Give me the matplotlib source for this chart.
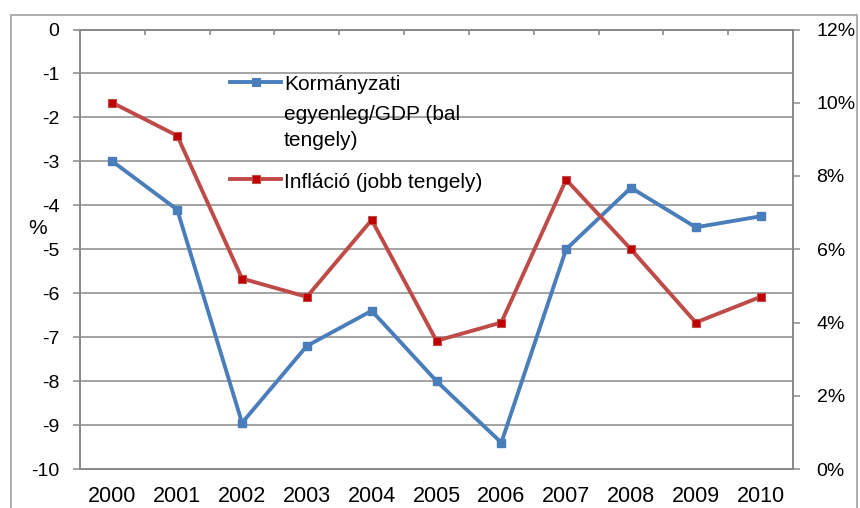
import numpy as np
import matplotlib
matplotlib.use("Agg")
import matplotlib.pyplot as plt
from matplotlib.lines import Line2D
from matplotlib.patches import Rectangle
from matplotlib.ticker import FuncFormatter

plt.rcParams["font.family"] = ["Liberation Sans", "DejaVu Sans"]

# -------------------------------------------------
# Data
# -------------------------------------------------
years = ["2000", "2001", "2002", "2003", "2004", "2005",
         "2006", "2007", "2008", "2009", "2010"]
balance = [-3.0, -4.1, -8.95, -7.2, -6.4, -8.0, -9.4, -5.0, -3.6, -4.5, -4.25]
inflation = [10.0, 9.1, 5.2, 4.7, 6.8, 3.5, 4.0, 7.9, 6.0, 4.0, 4.7]

label_balance = "Kormányzati\negyenleg/GDP (bal\ntengely)"
label_infl = "Infláció (jobb tengely)"

BLUE = "#4a7ebb"
RED_LINE = "#be4b48"
RED_FILL = "#c00000"
GRID = "#8a8a8a"
FRAME = "#a6a6a6"

W, H = 860, 508
DPI = 100

# -------------------------------------------------
# Figure + axes
# -------------------------------------------------
fig = plt.figure(figsize=(W / DPI, H / DPI), dpi=DPI)
fig.patch.set_facecolor("white")

def fx(px):
    return px / W

def fy(py):
    return 1 - py / H

# outer chart frame
fig.add_artist(Rectangle((fx(11), fy(530)), fx(857) - fx(11), fy(15) - fy(530),
                         transform=fig.transFigure, fill=False,
                         edgecolor=FRAME, linewidth=1.3))

ax = fig.add_axes([fx(80), fy(469), fx(793) - fx(80), fy(29.5) - fy(469)])
ax2 = ax.twinx()

x = np.arange(len(years))

LW = 2.8
MS = 5.5

ax.plot(x, balance, color=BLUE, linewidth=LW, marker="s", markersize=MS,
        markerfacecolor=BLUE, markeredgecolor=BLUE, zorder=3)
ax2.plot(x, inflation, color=RED_LINE, linewidth=LW, marker="s", markersize=MS,
         markerfacecolor=RED_FILL, markeredgecolor=RED_LINE,
         markeredgewidth=0.8, zorder=3)

# left axis
ax.set_ylim(-10, 0)
ax.set_yticks(np.arange(-10, 1, 1))
ax.set_yticklabels([str(v) for v in range(-10, 1)])
ax.yaxis.grid(True, color=GRID, linewidth=1.1)
ax.set_axisbelow(True)

# right axis
ax2.set_ylim(0, 12)
ax2.set_yticks(np.arange(0, 13, 2))
ax2.yaxis.set_major_formatter(FuncFormatter(lambda v, p: f"{int(v)}%"))

# x axis
ax.set_xlim(-0.5, len(years) - 0.5)
ax.set_xticks(x)
ax.set_xticklabels(years)
ax.set_xticks(np.arange(-0.5, len(years), 1), minor=True)
ax.tick_params(axis="x", which="major", length=0, pad=12, labelsize=15.5)
ax.tick_params(axis="x", which="minor", bottom=False, top=True,
               direction="in", length=3.5, width=1.2, color=GRID)
ax.tick_params(axis="y", length=5, width=1.1, color=GRID, pad=10,
               labelsize=14)
ax2.tick_params(axis="y", length=5, width=1.1, color=GRID, pad=12,
                labelsize=14)

for a in (ax, ax2):
    for s in a.spines.values():
        s.set_color(GRID)
        s.set_linewidth(1.4)

ax.text(fx(38), fy(229), "%", transform=fig.transFigure, fontsize=15,
        ha="center", va="center")

# -------------------------------------------------
# Legend (drawn by hand, Excel-style)
# -------------------------------------------------
for y_line, col, face in [(81.7, BLUE, BLUE), (178.5, RED_LINE, RED_FILL)]:
    fig.add_artist(Line2D([fx(230), fx(281)], [fy(y_line), fy(y_line)],
                          transform=fig.transFigure, color=col, linewidth=LW))
    fig.add_artist(Line2D([fx(255.5)], [fy(y_line)], transform=fig.transFigure,
                          marker="s", markersize=MS, markerfacecolor=face,
                          markeredgecolor=col, markeredgewidth=0.8))

for line, base in zip(label_balance.split("\n"), [90, 120, 146]):
    fig.text(fx(284), fy(base), line, fontsize=15, va="baseline", ha="left")
fig.text(fx(284), fy(188), label_infl, fontsize=15, va="baseline", ha="left")

fig.savefig("out.png", dpi=DPI, facecolor=fig.get_facecolor())
